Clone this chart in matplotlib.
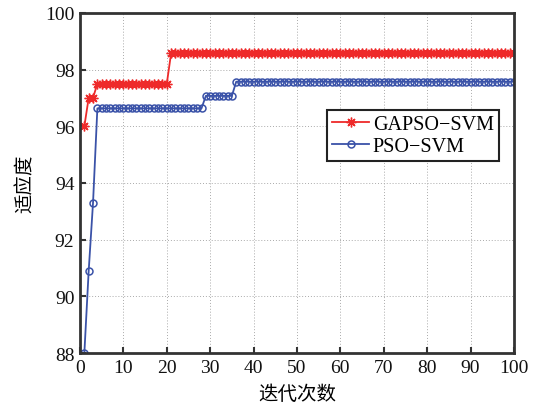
import numpy as np
import matplotlib.pyplot as plt

plt.rcParams['font.family'] = ['Liberation Serif', 'Noto Sans CJK SC']

# fitness per iteration (1..100)
iters = np.arange(1, 101)
gapso = [96.0] + [97.0] * 2 + [97.5] * 17 + [98.58] * 80
pso = [88.0, 90.9, 93.3] + [96.63] * 25 + [97.07] * 7 + [97.57] * 65

fig = plt.figure(figsize=(5.37, 4.06), dpi=100)
ax = fig.add_axes([0.149, 0.128, 0.808, 0.838])

ax.plot(iters, gapso, color='#ee2a2a', lw=1.3, marker=(8, 2, 0), ms=7,
        mew=1.0, label='GAPSO\u2212SVM')
ax.plot(iters, pso, color='#3a52a8', lw=1.3, marker='o', ms=5,
        mfc='none', mew=1.1, label='PSO\u2212SVM')

ax.set_xlim(0, 100)
ax.set_ylim(88, 100)
ax.set_xticks(np.arange(0, 101, 10))
ax.set_yticks(np.arange(88, 101, 2))
ax.grid(True, ls=(0, (1, 2)), color='#aaaaaa', lw=0.7)
ax.tick_params(direction='in', length=4, width=1.5, labelsize=14,
               colors='#333333', labelcolor='#111111', pad=4)
for s in ax.spines.values():
    s.set_linewidth(2)
    s.set_color('#333333')

ax.set_xlabel('迭代次数', fontsize=14, family='Noto Sans CJK SC', labelpad=5)
ax.set_ylabel('适应度', fontsize=14, family='Noto Sans CJK SC', labelpad=7)

leg = ax.legend(loc='upper right', bbox_to_anchor=(0.965, 0.715),
                fontsize=14.5, fancybox=False, framealpha=1, edgecolor='#222222',
                borderpad=0.25, labelspacing=0.15, handlelength=1.8,
                handletextpad=0.2, borderaxespad=0)
leg.get_frame().set_linewidth(1.5)

fig.savefig('out.png', dpi=100)
